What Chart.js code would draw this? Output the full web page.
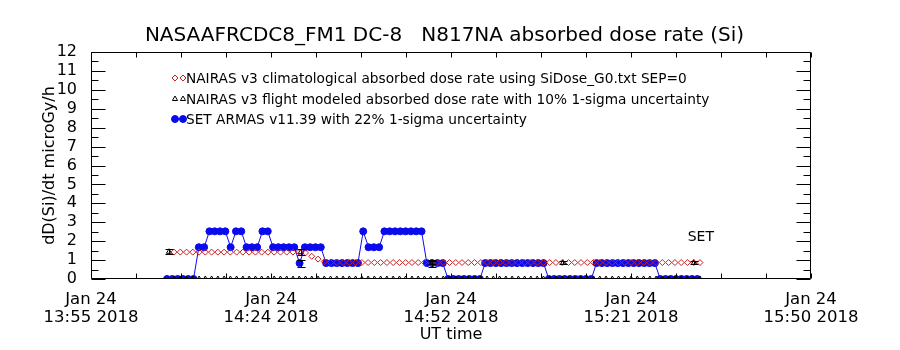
<!DOCTYPE html>
<html>
<head>
<meta charset="utf-8">
<script src="https://cdn.jsdelivr.net/npm/chart.js@4.4.0/dist/chart.umd.min.js"></script>
<style>
  html, body { margin: 0; padding: 0; background: #fff; }
</style>
</head>
<body>
<canvas id="dose" width="900" height="350"></canvas>
<script>
// time axis = minutes after 13:55 UT, Jan 24 2018
const xTickMinutes = [0, 28.75, 57.5, 86.25, 115];
const xTickLabels = [
    ['Jan 24', '13:55 2018'],
    ['Jan 24', '14:24 2018'],
    ['Jan 24', '14:52 2018'],
    ['Jan 24', '15:21 2018'],
    ['Jan 24', '15:50 2018']
];

// NAIRAS climatological, one sample per minute
const climStart = 13.26;
const climStep = 1.0;
const climDose = [
    1.42, 1.42, 1.42, 1.42, 1.42, 1.42, 1.42, 1.42, 1.42, 1.42,
    1.42, 1.42, 1.42, 1.42, 1.42, 1.42, 1.42, 1.42, 1.42, 1.42,
    1.42, 1.38, 1.20, 1.05, 0.92, 0.87, 0.87, 0.87, 0.87, 0.87,
    0.87, 0.87, 0.87, 0.87, 0.87, 0.87, 0.87, 0.87, 0.87, 0.87,
    0.87, 0.87, 0.87, 0.87, 0.87, 0.87, 0.87, 0.87, 0.87, 0.87,
    0.87, 0.87, 0.87, 0.87, 0.87, 0.87, 0.87, 0.87, 0.87, 0.87,
    0.87, 0.87, 0.87, 0.87, 0.87, 0.87, 0.87, 0.87, 0.87, 0.87,
    0.87, 0.87, 0.87, 0.87, 0.87, 0.87, 0.87, 0.87, 0.87, 0.87,
    0.87, 0.87, 0.87, 0.87, 0.87
];
// NAIRAS flight modeled track on the same minutes (sits on the axis)
const flightTrack = [
    0, 0, 0, 0, 0, 0, 0, 0, 0, 0, 0, 0, 0, 0, 0, 0, 0, 0, 0, 0,
    0, 0, 0, 0, 0, 0, 0, 0, 0, 0, 0, 0, 0, 0, 0, 0, 0, 0, 0, 0,
    0, 0, 0, 0, 0, 0, 0, 0, 0, 0, 0, 0, 0, 0, 0, 0, 0, 0, 0, 0,
    0, 0, 0, 0, 0, 0, 0, 0, 0, 0, 0, 0, 0, 0, 0, 0, 0, 0, 0, 0,
    0, 0, 0, 0, 0
];
// NAIRAS flight modeled points with 10% error bars
const flightTimes = [12.46, 33.5, 54.5, 75.4, 96.3];
const flightDose = [1.44, 1.42, 0.86, 0.86, 0.86];
const setAtFlight = [0, 0.84, 0.84, 0, 0];

// SET ARMAS v11.39
const setStart = 12.14;
const setStep = 0.847;
const setDose = [
    0, 0, 0, 0, 0, 0, 1.68, 1.68, 2.52, 2.52,
    2.52, 2.52, 1.68, 2.52, 2.52, 1.68, 1.68, 1.68, 2.52, 2.52,
    1.68, 1.68, 1.68, 1.68, 1.68, 0.84, 1.68, 1.68, 1.68, 1.68,
    0.84, 0.84, 0.84, 0.84, 0.84, 0.84, 0.84, 2.52, 1.68, 1.68,
    1.68, 2.52, 2.52, 2.52, 2.52, 2.52, 2.52, 2.52, 2.52, 0.84,
    0.84, 0.84, 0.84, 0, 0, 0, 0, 0, 0, 0,
    0.84, 0.84, 0.84, 0.84, 0.84, 0.84, 0.84, 0.84, 0.84, 0.84,
    0.84, 0.84, 0, 0, 0, 0, 0, 0, 0, 0,
    0, 0.84, 0.84, 0.84, 0.84, 0.84, 0.84, 0.84, 0.84, 0.84,
    0.84, 0.84, 0.84, 0, 0, 0, 0, 0, 0, 0,
    0
];

const legendLabels = [
    'NAIRAS v3 climatological absorbed dose rate using SiDose_G0.txt SEP=0',
    'NAIRAS v3 flight modeled absorbed dose rate with 10% 1-sigma uncertainty',
    'SET ARMAS v11.39 with 22% 1-sigma uncertainty'
];

const FONT = 'DejaVu Sans';
const RED = '#cc1f1f';
const BLUE = '#0a0aee';

const series = (start, step, vals) => vals.map((v, i) => ({ x: start + i * step, y: v }));

const climStyle = { pointStyle: 'rectRot', radius: 3, borderWidth: 1, borderColor: RED, backgroundColor: 'rgba(0,0,0,0)' };
const flightStyle = { pointStyle: 'triangle', radius: 3, borderWidth: 1, borderColor: '#000', backgroundColor: 'rgba(0,0,0,0)' };
const setStyle = { pointStyle: 'circle', radius: 3.5, borderWidth: 1, borderColor: BLUE, backgroundColor: BLUE };

// frame + inward ticks, error bars, legend, SET tag
const decorations = {
    id: 'decorations',
    afterDatasetsDraw(chart) {
        const { ctx, chartArea: a, scales: { x, y } } = chart;
        ctx.save();
        ctx.strokeStyle = '#000';
        ctx.lineWidth = 1;

        // error bars
        const bar = (t, v, frac) => {
            if (v <= 0) return;
            const px = Math.round(x.getPixelForValue(t)) + 0.5;
            const top = Math.round(y.getPixelForValue(v * (1 + frac))) + 0.5;
            const bot = Math.round(y.getPixelForValue(v * (1 - frac))) + 0.5;
            ctx.moveTo(px, top); ctx.lineTo(px, bot);
            ctx.moveTo(px - 4, top); ctx.lineTo(px + 4, top);
            ctx.moveTo(px - 4, bot); ctx.lineTo(px + 4, bot);
        };
        ctx.beginPath();
        flightTimes.forEach((t, i) => {
            bar(t, flightDose[i], 0.10);
            bar(t, setAtFlight[i], 0.22);
        });
        ctx.stroke();

        // frame
        const L = Math.round(a.left) + 0.5, R = Math.round(a.right) - 0.5;
        const T = Math.round(a.top) + 0.5, B = Math.round(a.bottom) - 0.5;
        ctx.beginPath();
        ctx.rect(L, T, R - L, B - T);
        for (let k = 0; k <= 24; k++) {
            const v = k / 2;
            const py = Math.round(y.getPixelForValue(v)) + 0.5;
            const len = k % 2 === 0 ? 14 : 7;
            ctx.moveTo(L, py); ctx.lineTo(L + len, py);
            ctx.moveTo(R, py); ctx.lineTo(R - len, py);
        }
        for (let k = 0; k <= 16; k++) {
            const px = Math.round(x.getPixelForValue(k * 115 / 16)) + 0.5;
            ctx.moveTo(px, T); ctx.lineTo(px, T + 5);
            ctx.moveTo(px, B); ctx.lineTo(px, B - 5);
        }
        ctx.stroke();

        // legend
        const styles = [climStyle, flightStyle, setStyle];
        const rowsY = [78, 99, 119];
        ctx.font = '13.7px "' + FONT + '"';
        ctx.textBaseline = 'middle';
        ctx.textAlign = 'left';
        rowsY.forEach((ry, i) => {
            const x1 = 175, x2 = 183;
            if (i === 2) {
                ctx.beginPath();
                ctx.strokeStyle = BLUE;
                ctx.moveTo(x1, ry); ctx.lineTo(x2, ry);
                ctx.stroke();
            }
            const s = styles[i];
            ctx.strokeStyle = s.borderColor;
            ctx.fillStyle = s.backgroundColor;
            ctx.lineWidth = 1;
            Chart.helpers.drawPoint(ctx, s, x1, ry);
            Chart.helpers.drawPoint(ctx, s, x2, ry);
            ctx.fillStyle = '#000';
            ctx.fillText(legendLabels[i], 186, ry + 1);
        });

        // SET tag
        ctx.font = '14px "' + FONT + '"';
        ctx.textAlign = 'center';
        ctx.fillText('SET', x.getPixelForValue(97.4), y.getPixelForValue(2.2));
        ctx.restore();
    }
};

new Chart(document.getElementById('dose'), {
    type: 'scatter',
    data: {
        datasets: [
            { label: legendLabels[0], data: series(climStart, climStep, climDose), showLine: false, order: 0, clip: 0, ...climStyle },
            { label: legendLabels[1], data: flightTimes.map((t, i) => ({ x: t, y: flightDose[i] })), showLine: false, order: 1, clip: 0, ...flightStyle },
            { label: 'track', data: series(climStart, climStep, flightTrack), showLine: false, order: 2, clip: 0, ...flightStyle },
            { label: legendLabels[2], data: series(setStart, setStep, setDose), showLine: true, borderWidth: 1, order: 3, clip: 0,
              pointStyle: 'circle', radius: 3.5, borderColor: BLUE, backgroundColor: BLUE }
        ]
    },
    options: {
        responsive: false,
        animation: false,
        layout: { padding: { left: 0, right: 11, top: 0, bottom: 0 } },
        plugins: {
            legend: { display: false },
            tooltip: { enabled: false },
            title: {
                display: true,
                text: 'NASAAFRCDC8_FM1 DC-8   N817NA absorbed dose rate (Si)',
                color: '#000',
                font: { family: FONT, size: 20, weight: 'normal', lineHeight: '24px' },
                padding: { top: 24, bottom: 4 }
            }
        },
        scales: {
            x: {
                type: 'linear',
                min: 0,
                max: 115,
                afterBuildTicks: (scale) => { scale.ticks = xTickMinutes.map(v => ({ value: v })); },
                afterFit: (scale) => { scale.height = 71; },
                grid: { display: false },
                border: { display: false },
                ticks: {
                    autoSkip: false,
                    maxRotation: 0,
                    padding: 4,
                    color: '#000',
                    font: { family: FONT, size: 16.5, lineHeight: '18px' },
                    callback: (v, i) => xTickLabels[i]
                },
                title: {
                    display: true,
                    text: 'UT time',
                    color: '#000',
                    font: { family: FONT, size: 16, lineHeight: '18px' },
                    padding: { top: 0, bottom: 6 }
                }
            },
            y: {
                min: 0,
                max: 12,
                afterFit: (scale) => { scale.width = 91; },
                grid: { display: false },
                border: { display: false },
                ticks: {
                    stepSize: 1,
                    autoSkip: false,
                    padding: 6,
                    color: '#000',
                    font: { family: FONT, size: 16 }
                },
                title: {
                    display: true,
                    text: 'dD(Si)/dt microGy/h',
                    color: '#000',
                    font: { family: FONT, size: 16, lineHeight: '18px' },
                    padding: { top: 41, bottom: 0 }
                }
            },
            // empty right-hand margin so the title centres like the original
            yRight: {
                position: 'right',
                min: 0,
                max: 12,
                afterFit: (scale) => { scale.width = 78; },
                grid: { display: false },
                border: { display: false },
                ticks: { display: false }
            }
        }
    },
    plugins: [decorations]
});
</script>
</body>
</html>
